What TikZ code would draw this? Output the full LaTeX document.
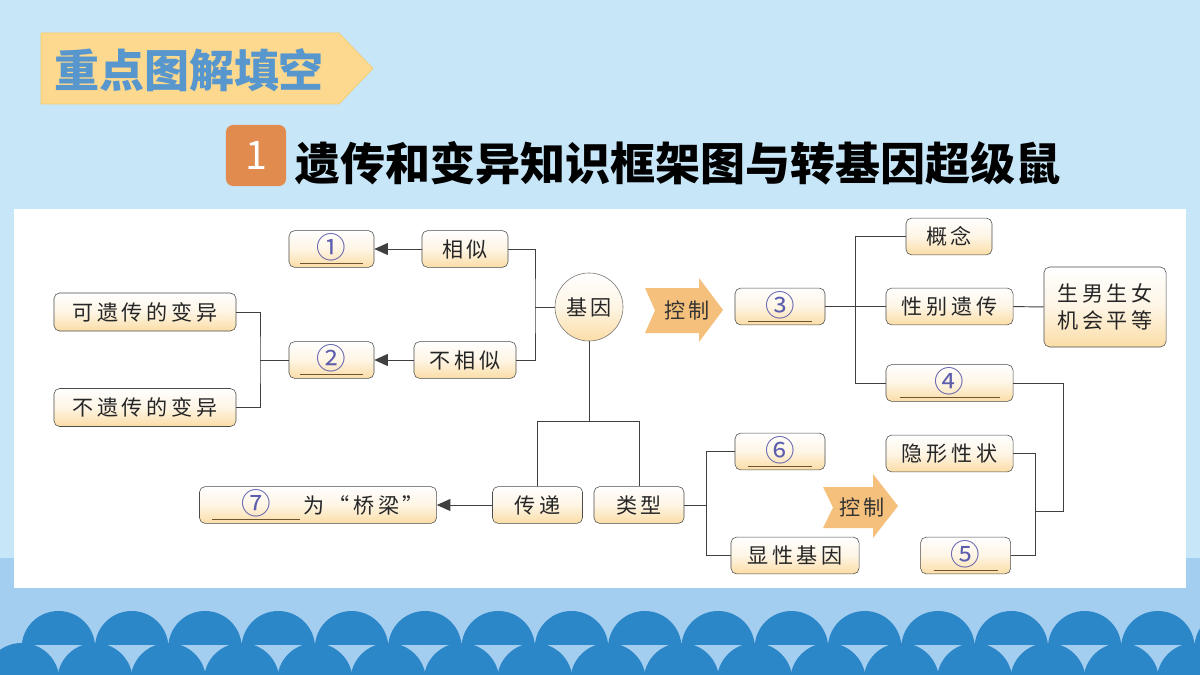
\documentclass[tikz,border=0pt]{standalone}
\usepackage{fontspec}
\setmainfont{Noto Sans CJK SC}
\newfontfamily\dfont[LetterSpace=18]{Noto Sans CJK SC}
\usetikzlibrary{arrows.meta, positioning, calc}
\definecolor{sky}{HTML}{C7E7F9}
\definecolor{band}{HTML}{A3CEF0}
\definecolor{wave}{HTML}{2C87C9}
\definecolor{boxbot}{HTML}{FBDDA6}
\definecolor{numc}{HTML}{5E5EAE}
\definecolor{linec}{HTML}{6E5631}
\definecolor{ctrl}{HTML}{F4C07C}
\definecolor{tagfill}{HTML}{FCD98E}
\definecolor{tagline}{HTML}{F3CB6B}
\definecolor{tagtext}{HTML}{5797CE}
\definecolor{badge}{HTML}{E28B4F}

% blank to fill in: underline of given width with a circled number on it
\newcommand\blank[2]{\textcolor{linec}{\underline{\makebox[#1]{%
  \textcolor{numc}{\fontsize{21}{21}\selectfont\raisebox{-1pt}{#2}}}}}}

\begin{document}
\begin{tikzpicture}[x=0.025cm, y=-0.025cm,
  >={Triangle[length=3.4mm, width=3mm]},
  box/.style={draw=black!70, rounded corners=4pt, top color=white,
    bottom color=boxbot, middle color=boxbot!30, minimum height=0.92cm,
    inner sep=1pt, font=\dfont\fontsize{15}{18}\selectfont, text=black!85},
  link/.style={draw=black!75, line width=0.7pt},
  ctrlarrow/.style={fill=ctrl, draw=none},
  ctrltxt/.style={font=\dfont\fontsize{15}{18}\selectfont, text=black!80}
]
\useasboundingbox (0,0) rectangle (1200,675);
% background, panel and waves
\fill[sky] (0,0) rectangle (1200,675);
\fill[band] (0,558) rectangle (1200,675);
\fill[white] (14,209) rectangle (1186,588);
\begin{scope}
  \clip (0,600) rectangle (1200,644);
  \foreach \k in {0,...,16}
    \fill[wave] (58.4+73.3*\k, 647.7) circle (0.9175cm);
\end{scope}
\foreach \k in {0,...,16}
  \fill[wave] (21.7+73.3*\k, 680.7) circle (0.9425cm);

% heading
\draw[tagline, fill=tagfill] (41,33) -- (339,33) -- (373,68.5) -- (339,104) -- (41,104) -- cycle;
\node[font=\bfseries\fontsize{32}{36}\selectfont, text=tagtext] (tag) at (189,70) {重点图解填空};
\node[fill=badge, rounded corners=5pt, minimum width=1.5cm, minimum height=1.525cm,
  text=white, font=\fontsize{28}{30}\selectfont] (num) at (256,155.5) {1};
\node[font=\bfseries\fontsize{32}{36}\selectfont] (title) at (678,163) {遗传和变异知识框架图与转基因超级鼠};

% left part
\node[box, minimum width=2.15cm] (xs) at (465,249) {相似};
\node[box, minimum width=2.125cm] (g1) at (331.5,249) {\blank{1.575cm}{①}};
\node[box, minimum width=2.55cm] (bxs) at (465,360) {不相似};
\node[box, minimum width=2.125cm] (g2) at (331.5,360) {\blank{1.575cm}{②}};
\node[box, minimum width=4.55cm, minimum height=0.95cm] (kyc) at (145,312) {可遗传的变异};
\node[box, minimum width=4.55cm, minimum height=0.95cm] (byc) at (145,407.5) {不遗传的变异};
\node[box, circle, draw=black!55, minimum size=1.7cm, inner sep=0pt] (jy) at (589,307) {基因};

\coordinate (lb) at (260,360);
\coordinate (rb) at (535,307);
\draw[link, ->] (xs) -- (g1);
\draw[link, ->] (bxs) -- (g2);
\draw[link] (kyc.east) -| (lb) |- (byc.east);
\draw[link] (lb) -- (g2);
\draw[link] (xs.east) -| (rb) |- (bxs.east);
\draw[link] (rb) -- (jy);

% lower part
\node[box, minimum width=2.25cm] (cd) at (537.5,505) {传递};
\node[box, minimum width=2.25cm] (lx) at (639,505) {类型};
\node[box, minimum width=5.925cm] (g7) at (318,505) {\blank{2.2cm}{⑦}\,为“桥梁”};
\node[box, minimum width=2.25cm] (g6) at (780,451.5) {\blank{1.6cm}{⑥}};
\node[box, minimum width=3.2cm] (xx) at (795,555.5) {显性基因};

\coordinate (jb) at (589,421.7);
\coordinate (tb) at (706.4,505);
\draw[link] (jy) -- (jb);
\draw[link] (cd.north) |- (lx.north |- jb) -- (lx.north);
\draw[link, ->] (cd) -- (g7);
\draw[link] (lx) -- (tb);
\draw[link] (g6.west) -| (tb) |- (xx.west);

% right part
\fill[ctrlarrow] (645,288) -- (699,288) -- (699,278) -- (723,310) -- (699,342)
  -- (699,333) -- (645,333) -- (655,310.5) -- cycle;
\node[ctrltxt] (ctl1) at (687,310) {控制};
\node[box, minimum width=2.25cm] (g3) at (780,306.5) {\blank{1.6cm}{③}};
\node[box, minimum width=2.15cm] (gn) at (949,236.5) {概念};
\node[box, minimum width=3.175cm] (xb) at (949.5,306.5) {性别遗传};
\node[box, minimum width=3.05cm, minimum height=2cm, align=center,
  font=\dfont\fontsize{15}{19}\selectfont] (pd) at (1105,307) {生男生女\\机会平等};
\node[box, minimum width=3.175cm] (g4) at (949.5,383) {\blank{2.5cm}{④}};
\node[box, minimum width=3.175cm] (yx) at (949.5,453.5) {隐形性状};
\node[box, minimum width=2.25cm] (g5) at (965.6,555.5) {\blank{1.6cm}{⑤}};
\fill[ctrlarrow] (823,487) -- (873,487) -- (873,474) -- (898,506) -- (873,538)
  -- (873,528) -- (823,528) -- (833,507.5) -- cycle;
\node[ctrltxt] (ctl2) at (862,507) {控制};

\coordinate (vb) at (855.6,306.5);
\coordinate (oc) at (1063,511);
\coordinate (ob) at (1035,511);
\draw[link] (g3) -- (xb);
\draw[link] (gn.west) -| (vb) |- (g4.west);
\draw[link] (xb) -- (pd);
\draw[link] (g4.east) -| (oc) -- (ob);
\draw[link] (yx.east) -| (ob) |- (g5.east);
\end{tikzpicture}
\end{document}
